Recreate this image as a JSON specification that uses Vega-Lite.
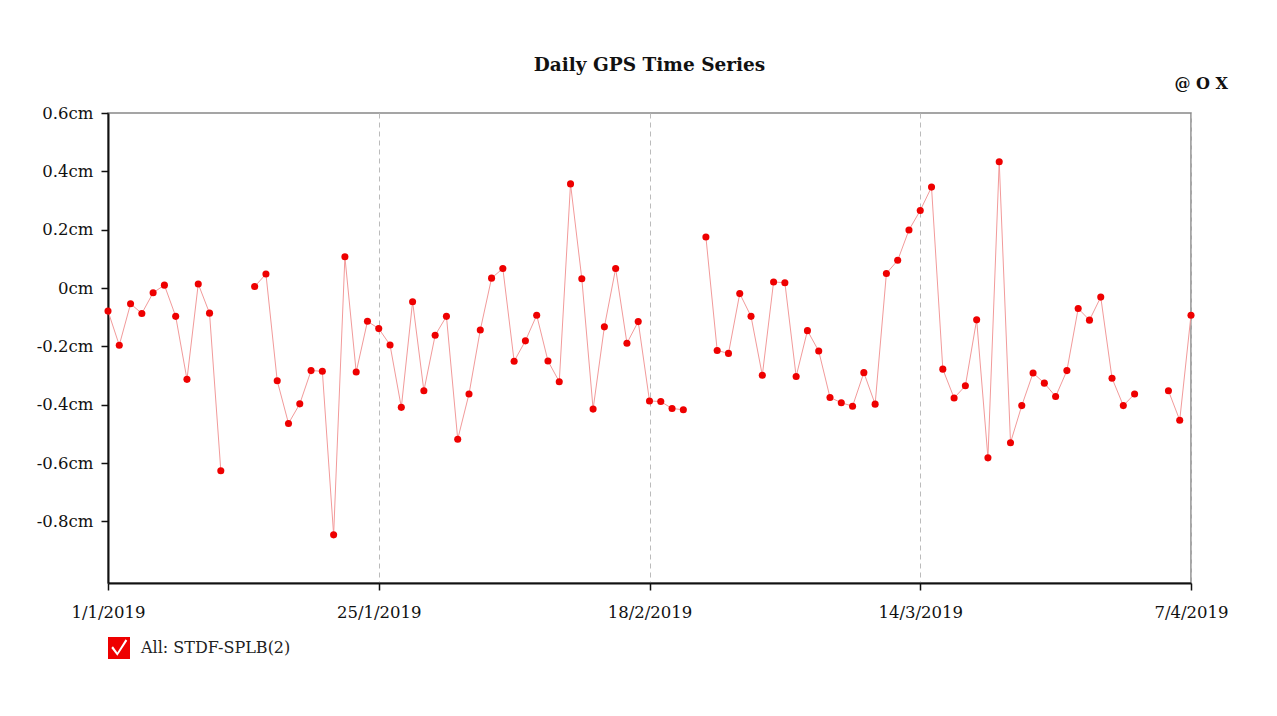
{
  "$schema": "https://vega.github.io/schema/vega-lite/v6.json",
  "autosize": "none",
  "width": 1083,
  "height": 470,
  "padding": {"left": 108, "top": 113, "right": 86, "bottom": 133},
  "background": "white",
  "title": {
    "text": "Daily GPS Time Series",
    "font": "DejaVu Serif",
    "fontSize": 18.5,
    "fontWeight": "bold",
    "color": "#111",
    "anchor": "middle",
    "frame": "group",
    "baseline": "alphabetic",
    "offset": 16,
    "dy": 29
  },
  "config": {
    "font": "DejaVu Serif",
    "view": {"stroke": "#888", "strokeWidth": 1.5}
  },
  "datasets": {
    "gps": [
      {"date": "2019-01-01", "value": -0.079, "series": "All: STDF-SPLB(2)"},
      {"date": "2019-01-02", "value": -0.196, "series": "All: STDF-SPLB(2)"},
      {"date": "2019-01-03", "value": -0.054, "series": "All: STDF-SPLB(2)"},
      {"date": "2019-01-04", "value": -0.087, "series": "All: STDF-SPLB(2)"},
      {"date": "2019-01-05", "value": -0.016, "series": "All: STDF-SPLB(2)"},
      {"date": "2019-01-06", "value": 0.010, "series": "All: STDF-SPLB(2)"},
      {"date": "2019-01-07", "value": -0.097, "series": "All: STDF-SPLB(2)"},
      {"date": "2019-01-08", "value": -0.313, "series": "All: STDF-SPLB(2)"},
      {"date": "2019-01-09", "value": 0.014, "series": "All: STDF-SPLB(2)"},
      {"date": "2019-01-10", "value": -0.086, "series": "All: STDF-SPLB(2)"},
      {"date": "2019-01-11", "value": -0.626, "series": "All: STDF-SPLB(2)"},
      {"date": "2019-01-12", "value": null, "series": "All: STDF-SPLB(2)"},
      {"date": "2019-01-13", "value": null, "series": "All: STDF-SPLB(2)"},
      {"date": "2019-01-14", "value": 0.005, "series": "All: STDF-SPLB(2)"},
      {"date": "2019-01-15", "value": 0.048, "series": "All: STDF-SPLB(2)"},
      {"date": "2019-01-16", "value": -0.318, "series": "All: STDF-SPLB(2)"},
      {"date": "2019-01-17", "value": -0.464, "series": "All: STDF-SPLB(2)"},
      {"date": "2019-01-18", "value": -0.397, "series": "All: STDF-SPLB(2)"},
      {"date": "2019-01-19", "value": -0.283, "series": "All: STDF-SPLB(2)"},
      {"date": "2019-01-20", "value": -0.285, "series": "All: STDF-SPLB(2)"},
      {"date": "2019-01-21", "value": -0.846, "series": "All: STDF-SPLB(2)"},
      {"date": "2019-01-22", "value": 0.107, "series": "All: STDF-SPLB(2)"},
      {"date": "2019-01-23", "value": -0.288, "series": "All: STDF-SPLB(2)"},
      {"date": "2019-01-24", "value": -0.114, "series": "All: STDF-SPLB(2)"},
      {"date": "2019-01-25", "value": -0.139, "series": "All: STDF-SPLB(2)"},
      {"date": "2019-01-26", "value": -0.195, "series": "All: STDF-SPLB(2)"},
      {"date": "2019-01-27", "value": -0.409, "series": "All: STDF-SPLB(2)"},
      {"date": "2019-01-28", "value": -0.047, "series": "All: STDF-SPLB(2)"},
      {"date": "2019-01-29", "value": -0.352, "series": "All: STDF-SPLB(2)"},
      {"date": "2019-01-30", "value": -0.162, "series": "All: STDF-SPLB(2)"},
      {"date": "2019-01-31", "value": -0.097, "series": "All: STDF-SPLB(2)"},
      {"date": "2019-02-01", "value": -0.518, "series": "All: STDF-SPLB(2)"},
      {"date": "2019-02-02", "value": -0.363, "series": "All: STDF-SPLB(2)"},
      {"date": "2019-02-03", "value": -0.144, "series": "All: STDF-SPLB(2)"},
      {"date": "2019-02-04", "value": 0.034, "series": "All: STDF-SPLB(2)"},
      {"date": "2019-02-05", "value": 0.067, "series": "All: STDF-SPLB(2)"},
      {"date": "2019-02-06", "value": -0.251, "series": "All: STDF-SPLB(2)"},
      {"date": "2019-02-07", "value": -0.181, "series": "All: STDF-SPLB(2)"},
      {"date": "2019-02-08", "value": -0.093, "series": "All: STDF-SPLB(2)"},
      {"date": "2019-02-09", "value": -0.250, "series": "All: STDF-SPLB(2)"},
      {"date": "2019-02-10", "value": -0.321, "series": "All: STDF-SPLB(2)"},
      {"date": "2019-02-11", "value": 0.357, "series": "All: STDF-SPLB(2)"},
      {"date": "2019-02-12", "value": 0.032, "series": "All: STDF-SPLB(2)"},
      {"date": "2019-02-13", "value": -0.415, "series": "All: STDF-SPLB(2)"},
      {"date": "2019-02-14", "value": -0.133, "series": "All: STDF-SPLB(2)"},
      {"date": "2019-02-15", "value": 0.067, "series": "All: STDF-SPLB(2)"},
      {"date": "2019-02-16", "value": -0.189, "series": "All: STDF-SPLB(2)"},
      {"date": "2019-02-17", "value": -0.115, "series": "All: STDF-SPLB(2)"},
      {"date": "2019-02-18", "value": -0.387, "series": "All: STDF-SPLB(2)"},
      {"date": "2019-02-19", "value": -0.389, "series": "All: STDF-SPLB(2)"},
      {"date": "2019-02-20", "value": -0.413, "series": "All: STDF-SPLB(2)"},
      {"date": "2019-02-21", "value": -0.417, "series": "All: STDF-SPLB(2)"},
      {"date": "2019-02-22", "value": null, "series": "All: STDF-SPLB(2)"},
      {"date": "2019-02-23", "value": 0.175, "series": "All: STDF-SPLB(2)"},
      {"date": "2019-02-24", "value": -0.214, "series": "All: STDF-SPLB(2)"},
      {"date": "2019-02-25", "value": -0.224, "series": "All: STDF-SPLB(2)"},
      {"date": "2019-02-26", "value": -0.019, "series": "All: STDF-SPLB(2)"},
      {"date": "2019-02-27", "value": -0.097, "series": "All: STDF-SPLB(2)"},
      {"date": "2019-02-28", "value": -0.299, "series": "All: STDF-SPLB(2)"},
      {"date": "2019-03-01", "value": 0.021, "series": "All: STDF-SPLB(2)"},
      {"date": "2019-03-02", "value": 0.018, "series": "All: STDF-SPLB(2)"},
      {"date": "2019-03-03", "value": -0.303, "series": "All: STDF-SPLB(2)"},
      {"date": "2019-03-04", "value": -0.146, "series": "All: STDF-SPLB(2)"},
      {"date": "2019-03-05", "value": -0.216, "series": "All: STDF-SPLB(2)"},
      {"date": "2019-03-06", "value": -0.375, "series": "All: STDF-SPLB(2)"},
      {"date": "2019-03-07", "value": -0.393, "series": "All: STDF-SPLB(2)"},
      {"date": "2019-03-08", "value": -0.405, "series": "All: STDF-SPLB(2)"},
      {"date": "2019-03-09", "value": -0.290, "series": "All: STDF-SPLB(2)"},
      {"date": "2019-03-10", "value": -0.398, "series": "All: STDF-SPLB(2)"},
      {"date": "2019-03-11", "value": 0.050, "series": "All: STDF-SPLB(2)"},
      {"date": "2019-03-12", "value": 0.095, "series": "All: STDF-SPLB(2)"},
      {"date": "2019-03-13", "value": 0.199, "series": "All: STDF-SPLB(2)"},
      {"date": "2019-03-14", "value": 0.266, "series": "All: STDF-SPLB(2)"},
      {"date": "2019-03-15", "value": 0.346, "series": "All: STDF-SPLB(2)"},
      {"date": "2019-03-16", "value": -0.278, "series": "All: STDF-SPLB(2)"},
      {"date": "2019-03-17", "value": -0.377, "series": "All: STDF-SPLB(2)"},
      {"date": "2019-03-18", "value": -0.335, "series": "All: STDF-SPLB(2)"},
      {"date": "2019-03-19", "value": -0.109, "series": "All: STDF-SPLB(2)"},
      {"date": "2019-03-20", "value": -0.582, "series": "All: STDF-SPLB(2)"},
      {"date": "2019-03-21", "value": 0.433, "series": "All: STDF-SPLB(2)"},
      {"date": "2019-03-22", "value": -0.530, "series": "All: STDF-SPLB(2)"},
      {"date": "2019-03-23", "value": -0.403, "series": "All: STDF-SPLB(2)"},
      {"date": "2019-03-24", "value": -0.291, "series": "All: STDF-SPLB(2)"},
      {"date": "2019-03-25", "value": -0.326, "series": "All: STDF-SPLB(2)"},
      {"date": "2019-03-26", "value": -0.372, "series": "All: STDF-SPLB(2)"},
      {"date": "2019-03-27", "value": -0.283, "series": "All: STDF-SPLB(2)"},
      {"date": "2019-03-28", "value": -0.070, "series": "All: STDF-SPLB(2)"},
      {"date": "2019-03-29", "value": -0.110, "series": "All: STDF-SPLB(2)"},
      {"date": "2019-03-30", "value": -0.031, "series": "All: STDF-SPLB(2)"},
      {"date": "2019-03-31", "value": -0.309, "series": "All: STDF-SPLB(2)"},
      {"date": "2019-04-01", "value": -0.403, "series": "All: STDF-SPLB(2)"},
      {"date": "2019-04-02", "value": -0.363, "series": "All: STDF-SPLB(2)"},
      {"date": "2019-04-03", "value": null, "series": "All: STDF-SPLB(2)"},
      {"date": "2019-04-04", "value": null, "series": "All: STDF-SPLB(2)"},
      {"date": "2019-04-05", "value": -0.352, "series": "All: STDF-SPLB(2)"},
      {"date": "2019-04-06", "value": -0.453, "series": "All: STDF-SPLB(2)"},
      {"date": "2019-04-07", "value": -0.093, "series": "All: STDF-SPLB(2)"}
    ],
    "corner": [{"label": "@ O X"}]
  },
  "layer": [
    {
      "data": {"name": "gps"},
      "mark": {
        "type": "line",
        "color": "#f29a9a",
        "strokeWidth": 1,
        "invalid": "break-paths-show-domains"
      },
      "encoding": {
        "x": {
          "field": "date",
          "type": "temporal",
          "title": null,
          "scale": {
            "type": "utc",
            "domain": [
              {"year": 2019, "month": 1, "date": 1, "utc": true},
              {"year": 2019, "month": 4, "date": 7, "utc": true}
            ]
          },
          "axis": {
            "values": [
              {"year": 2019, "month": 1, "date": 1, "utc": true},
              {"year": 2019, "month": 1, "date": 25, "utc": true},
              {"year": 2019, "month": 2, "date": 18, "utc": true},
              {"year": 2019, "month": 3, "date": 14, "utc": true},
              {"year": 2019, "month": 4, "date": 7, "utc": true}
            ],
            "labelExpr": "utcFormat(datum.value, '%-d/%-m/%Y')",
            "labelFont": "DejaVu Serif",
            "labelFontSize": 16.5,
            "labelColor": "#111",
            "labelPadding": 14,
            "labelFlush": false,
            "labelOverlap": false,
            "domainColor": "#111",
            "domainWidth": 2,
            "tickColor": "#111",
            "tickWidth": 1.5,
            "tickSize": 7,
            "grid": true,
            "gridColor": "#bbb",
            "gridDash": [5, 4],
            "gridWidth": 1
          }
        },
        "y": {
          "field": "value",
          "type": "quantitative",
          "title": null,
          "scale": {"domain": [-1.011, 0.6], "nice": false, "zero": false},
          "axis": {
            "values": [0.6, 0.4, 0.2, 0, -0.2, -0.4, -0.6, -0.8],
            "labelExpr": "(datum.value < 0 ? '-' : '') + format(abs(datum.value), '.1~f') + 'cm'",
            "labelFont": "DejaVu Serif",
            "labelFontSize": 16.5,
            "labelColor": "#111",
            "labelPadding": 8,
            "domainColor": "#111",
            "domainWidth": 2,
            "tickColor": "#111",
            "tickWidth": 1.5,
            "tickSize": 7,
            "grid": false
          }
        }
      }
    },
    {
      "data": {"name": "gps"},
      "mark": {"type": "point", "filled": true, "opacity": 1, "size": 50, "invalid": "filter"},
      "encoding": {
        "x": {"field": "date", "type": "temporal"},
        "y": {"field": "value", "type": "quantitative"},
        "color": {
          "field": "series",
          "type": "nominal",
          "scale": {"range": ["#ee0000"]},
          "legend": {
            "title": null,
            "orient": "none",
            "legendX": 0,
            "legendY": 524,
            "padding": 0,
            "symbolType": "M-1,-1H1V1H-1Z M-0.7,0 L-0.15,0.7 L0.75,-0.65 L0.6,-0.8 L-0.15,0.4 L-0.55,-0.15 Z",
            "symbolSize": 484,
            "symbolStrokeWidth": 0,
            "symbolOpacity": 1,
            "labelFont": "DejaVu Serif",
            "labelFontSize": 16,
            "labelColor": "#222",
            "labelOffset": 11
          }
        }
      }
    },
    {
      "data": {"name": "corner"},
      "mark": {
        "type": "text",
        "font": "DejaVu Serif",
        "fontSize": 16,
        "fontWeight": "bold",
        "color": "#111",
        "align": "right",
        "baseline": "alphabetic",
        "dx": 37
      },
      "encoding": {
        "text": {"field": "label", "type": "nominal"},
        "x": {"datum": {"year": 2019, "month": 4, "date": 7, "utc": true}, "type": "temporal"},
        "y": {"datum": 0.682, "type": "quantitative"}
      }
    }
  ]
}
